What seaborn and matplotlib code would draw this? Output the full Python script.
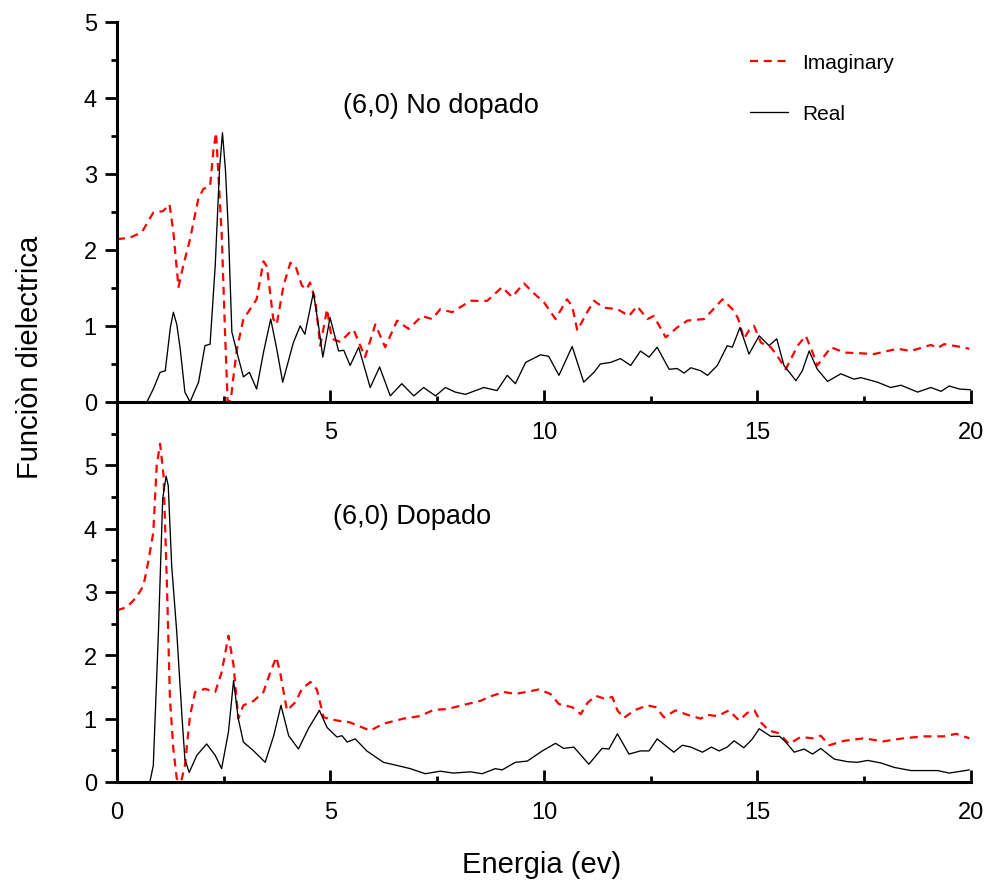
import matplotlib
matplotlib.use("Agg")
import matplotlib.pyplot as plt
import seaborn as sns
import pandas as pd
from matplotlib.ticker import MultipleLocator, FixedLocator

# ---- (6,0) undoped tube ----
e_imag_undoped = [0.0, 0.30, 0.58, 0.85, 1.08, 1.23, 1.32, 1.44, 1.55, 1.71, 1.90, 2.02, 2.18,
                  2.26, 2.32, 2.45, 2.53, 2.59, 2.66, 2.72, 2.81, 2.96, 3.07, 3.27, 3.43, 3.51,
                  3.66, 3.74, 3.90, 4.06, 4.18, 4.33, 4.44, 4.52, 4.64, 4.76, 4.92, 5.03, 5.23,
                  5.46, 5.54, 5.81, 6.05, 6.28, 6.56, 6.83, 7.14, 7.38, 7.57, 7.85, 8.28, 8.67,
                  9.02, 9.25, 9.53, 9.76, 10.0, 10.27, 10.54, 10.66, 10.78, 11.01, 11.17, 11.40,
                  11.72, 11.99, 12.18, 12.42, 12.57, 12.85, 13.12, 13.36, 13.75, 14.18, 14.45,
                  14.55, 14.68, 14.80, 14.92, 15.08, 15.31, 15.46, 15.66, 15.94, 16.13, 16.29,
                  16.40, 16.72, 17.03, 17.42, 17.73, 18.28, 18.59, 19.06, 19.22, 19.37, 19.69,
                  19.96]
imag_undoped = [2.14, 2.16, 2.23, 2.49, 2.51, 2.60, 2.23, 1.51, 1.79, 2.14, 2.66, 2.80, 2.84,
                3.32, 3.54, 2.23, 0.92, 0.02, 0.0, 0.30, 0.70, 1.09, 1.18, 1.35, 1.85, 1.78,
                1.09, 1.02, 1.53, 1.83, 1.79, 1.53, 1.48, 1.57, 1.35, 0.74, 1.22, 0.83, 0.79,
                0.92, 0.95, 0.59, 1.02, 0.72, 1.07, 0.96, 1.13, 1.09, 1.22, 1.18, 1.33, 1.33,
                1.51, 1.38, 1.56, 1.43, 1.31, 1.09, 1.35, 1.26, 0.94, 1.18, 1.33, 1.24,
                1.22, 1.13, 1.26, 1.09, 1.13, 0.85, 0.98, 1.07, 1.09, 1.35, 1.20,
                1.09, 0.83, 0.94, 1.00, 0.78, 0.72, 0.61, 0.43, 0.74, 0.87, 0.65,
                0.48, 0.72, 0.65, 0.64, 0.63, 0.70, 0.67, 0.75, 0.71, 0.76, 0.73,
                0.70]

e_real_undoped = [0.0, 0.70, 0.85, 1.01, 1.13, 1.25, 1.32, 1.40, 1.48, 1.59, 1.71, 1.91, 2.06,
                  2.18, 2.30, 2.40, 2.47, 2.54, 2.61, 2.69, 2.81, 2.96, 3.10, 3.27, 3.43, 3.60,
                  3.74, 3.88, 4.13, 4.29, 4.40, 4.60, 4.72, 4.82, 4.99, 5.19, 5.31, 5.46, 5.66,
                  5.93, 6.15, 6.40, 6.67, 6.95, 7.18, 7.46, 7.69, 7.92, 8.16, 8.59, 8.90, 9.14,
                  9.33, 9.57, 9.92, 10.11, 10.35, 10.66, 10.93, 11.17, 11.32, 11.56, 11.79,
                  12.03, 12.26, 12.46, 12.65, 12.93, 13.12, 13.28, 13.44, 13.67, 13.83, 14.06,
                  14.29, 14.41, 14.59, 14.80, 15.04, 15.27, 15.45, 15.62, 15.90, 16.05, 16.21,
                  16.40, 16.64, 16.95, 17.26, 17.42, 17.81, 18.12, 18.36, 18.75, 19.06, 19.30,
                  19.49, 19.73, 20.0]
real_undoped = [0.0, 0.0, 0.17, 0.39, 0.41, 0.98, 1.18, 1.02, 0.70, 0.13, 0.0, 0.26, 0.74,
                0.76, 1.79, 3.05, 3.54, 3.05, 2.23, 0.92, 0.65, 0.33, 0.39, 0.17, 0.65, 1.09,
                0.70, 0.26, 0.78, 1.00, 0.89, 1.44, 1.00, 0.59, 1.11, 0.67, 0.68, 0.48, 0.72,
                0.19, 0.46, 0.08, 0.24, 0.08, 0.19, 0.08, 0.19, 0.13, 0.10, 0.19, 0.15, 0.35,
                0.24, 0.52, 0.62, 0.60, 0.35, 0.73, 0.26, 0.39, 0.50, 0.52, 0.57,
                0.48, 0.67, 0.59, 0.72, 0.43, 0.44, 0.38, 0.45, 0.41, 0.35, 0.48,
                0.74, 0.72, 0.98, 0.63, 0.87, 0.74, 0.83, 0.48, 0.28, 0.41, 0.67,
                0.43, 0.27, 0.37, 0.30, 0.32, 0.26, 0.19, 0.22, 0.13, 0.19, 0.14,
                0.21, 0.17, 0.16]

# ---- (6,0) doped tube ----
e_imag_doped = [0.0, 0.23, 0.46, 0.62, 0.73, 0.85, 0.93, 1.01, 1.09, 1.17, 1.24, 1.32, 1.40,
                1.50, 1.59, 1.71, 1.83, 2.06, 2.30, 2.45, 2.61, 2.73, 2.84, 2.96, 3.20, 3.43,
                3.59, 3.73, 3.82, 3.98, 4.18, 4.33, 4.53, 4.68, 4.84, 5.15, 5.46, 5.93, 6.24,
                6.71, 7.10, 7.42, 7.73, 8.20, 8.51, 8.74, 9.06, 9.33, 9.57, 9.88, 10.15, 10.35,
                10.66, 10.86, 11.02, 11.21, 11.40, 11.60, 11.72, 11.87, 12.11, 12.42, 12.62,
                12.81, 13.08, 13.36, 13.67, 13.83, 14.06, 14.33, 14.57, 14.76, 14.93, 15.08,
                15.27, 15.50, 15.74, 16.01, 16.29, 16.48, 16.68, 17.03, 17.50, 17.93, 18.43,
                18.90, 19.37, 19.65, 19.96]
imag_doped = [2.71, 2.76, 2.92, 3.10, 3.47, 3.94, 5.00, 5.34, 4.84, 3.10, 1.31, 0.52, 0.05,
              0.0, 0.26, 1.05, 1.42, 1.47, 1.42, 1.73, 2.31, 1.84, 1.00, 1.21, 1.28, 1.42,
              1.73, 1.97, 1.73, 1.13, 1.26, 1.47, 1.58, 1.46, 1.02, 0.97, 0.94, 0.81, 0.92,
              1.00, 1.04, 1.14, 1.15, 1.23, 1.28, 1.35, 1.42, 1.39, 1.42, 1.46, 1.39, 1.23,
              1.18, 1.07, 1.25, 1.36, 1.32, 1.34, 1.13, 1.01, 1.13, 1.21, 1.18,
              1.02, 1.13, 1.06, 1.00, 1.06, 1.04, 1.13, 0.97, 1.09, 1.13, 0.94,
              0.81, 0.77, 0.60, 0.71, 0.69, 0.73, 0.58, 0.65, 0.69, 0.64, 0.69,
              0.72, 0.72, 0.76, 0.69]

e_real_doped = [0.0, 0.77, 0.85, 0.97, 1.07, 1.15, 1.20, 1.28, 1.40, 1.52, 1.59, 1.69, 1.87,
                2.10, 2.30, 2.45, 2.61, 2.73, 2.84, 2.96, 3.20, 3.47, 3.67, 3.84, 4.02, 4.25,
                4.48, 4.74, 4.92, 5.15, 5.27, 5.39, 5.58, 5.85, 6.24, 6.56, 6.87, 7.22, 7.57,
                7.88, 8.28, 8.55, 8.86, 9.02, 9.33, 9.61, 9.96, 10.27, 10.46, 10.70, 11.05,
                11.36, 11.52, 11.72, 11.99, 12.26, 12.46, 12.65, 13.04, 13.24, 13.44, 13.71,
                13.92, 14.10, 14.29, 14.45, 14.68, 14.88, 15.04, 15.31, 15.52, 15.66, 15.86,
                16.09, 16.29, 16.48, 16.80, 17.11, 17.34, 17.58, 17.89, 18.20, 18.59, 18.90,
                19.22, 19.49, 19.96]
real_doped = [0.0, 0.0, 0.26, 2.36, 4.47, 4.83, 4.68, 3.42, 2.36, 1.05, 0.36, 0.15, 0.42,
              0.60, 0.42, 0.21, 0.79, 1.60, 1.00, 0.63, 0.49, 0.31, 0.73, 1.21, 0.73, 0.52,
              0.84, 1.13, 0.86, 0.71, 0.73, 0.63, 0.68, 0.49, 0.31, 0.26, 0.21, 0.13, 0.17,
              0.14, 0.16, 0.13, 0.21, 0.19, 0.31, 0.33, 0.49, 0.61, 0.53, 0.55, 0.28,
              0.53, 0.52, 0.76, 0.44, 0.49, 0.49, 0.68, 0.47, 0.58, 0.55, 0.47,
              0.55, 0.49, 0.55, 0.65, 0.54, 0.68, 0.84, 0.72, 0.72, 0.63, 0.47,
              0.52, 0.44, 0.53, 0.36, 0.32, 0.31, 0.34, 0.30, 0.23, 0.18, 0.18,
              0.18, 0.14, 0.19]

panel_titles = ["(6,0) No dopado", "(6,0) Dopado"]
series_labels = ["Imaginary", "Real"]
x_label = "Energia (ev)"
y_label = "Funciòn dielectrica"

sns.set_style("ticks")
plt.rcParams["font.family"] = ["Liberation Sans", "DejaVu Sans"]
plt.rcParams.update({
    "text.color": "black",
    "axes.labelcolor": "black",
    "axes.edgecolor": "black",
    "xtick.color": "black",
    "ytick.color": "black",
})

fig = plt.figure(figsize=(9.89, 8.87), dpi=100)
ax_top = fig.add_axes([0.1183, 0.5457, 0.8635, 0.4287])
ax_bot = fig.add_axes([0.1183, 0.1173, 0.8635, 0.4284])
# keep the lower panel transparent so the upper panel's axis line and labels stay visible
ax_bot.patch.set_visible(False)
ax_top.patch.set_visible(False)
ax_top.set_zorder(3)

red_dash = (0, (3.6, 2.6))


def draw_panel(ax, e_im, im, e_re, re, with_legend):
    df_im = pd.DataFrame({"E": e_im, "v": im})
    df_re = pd.DataFrame({"E": e_re, "v": re})
    sns.lineplot(data=df_im, x="E", y="v", ax=ax, color="#ff0000", lw=1.6,
                 linestyle=red_dash, estimator=None,
                 label=series_labels[0] if with_legend else None)
    sns.lineplot(data=df_re, x="E", y="v", ax=ax, color="black", lw=0.95,
                 estimator=None, label=series_labels[1] if with_legend else None)
    ax.set_xlim(0, 20)
    ax.set_xlabel("")
    ax.set_ylabel("")
    for side in ("top", "right"):
        ax.spines[side].set_visible(False)
    for side in ("left", "bottom"):
        ax.spines[side].set_linewidth(2.2)
        ax.spines[side].set_color("black")
    ax.xaxis.set_minor_locator(MultipleLocator(2.5))
    ax.yaxis.set_minor_locator(MultipleLocator(0.5))
    ax.tick_params(axis="x", which="major", direction="in", length=8.5, width=2,
                   labelsize=17, pad=13.5, colors="black")
    ax.tick_params(axis="x", which="minor", direction="in", length=4, width=2,
                   colors="black")
    ax.tick_params(axis="y", which="major", direction="out", length=8.5, width=2,
                   labelsize=17, pad=6, colors="black")
    ax.tick_params(axis="y", which="minor", direction="out", length=4.5, width=2,
                   colors="black")


draw_panel(ax_top, e_imag_undoped, imag_undoped, e_real_undoped, real_undoped, True)
draw_panel(ax_bot, e_imag_doped, imag_doped, e_real_doped, real_doped, False)

ax_top.set_ylim(0, 5)
ax_top.set_yticks([0, 1, 2, 3, 4, 5])
ax_top.set_xticks([5, 10, 15, 20])
ax_top.set_xticklabels(["5", "10", "15", "20"])
ax_top.xaxis.set_minor_locator(FixedLocator([2.5, 7.5, 12.5, 17.5]))

ax_bot.set_ylim(0, 6)
ax_bot.set_yticks([0, 1, 2, 3, 4, 5])
ax_bot.yaxis.set_minor_locator(FixedLocator([0.5, 1.5, 2.5, 3.5, 4.5, 5.5]))
ax_bot.set_xticks([0, 5, 10, 15, 20])

ax_top.text(5.3, 3.91, panel_titles[0], fontsize=19.5, ha="left", va="center")
ax_bot.text(5.06, 4.20, panel_titles[1], fontsize=19.5, ha="left", va="center")

leg = ax_top.legend(loc="upper left", bbox_to_anchor=(750 / 989, 1 - 54 / 887),
                    bbox_transform=fig.transFigure, frameon=False, fontsize=15,
                    handlelength=1.8, handletextpad=0.7, labelspacing=1.55,
                    borderpad=0, borderaxespad=0)
for t in leg.get_texts():
    t.set_color("black")

fig.text(542 / 989, 1 - 865 / 887, x_label, fontsize=21, ha="center", va="center")
fig.text(30 / 989, 1 - 357 / 887, y_label, fontsize=21, ha="center", va="center",
         rotation=90)

fig.savefig("out.png", dpi=100)
